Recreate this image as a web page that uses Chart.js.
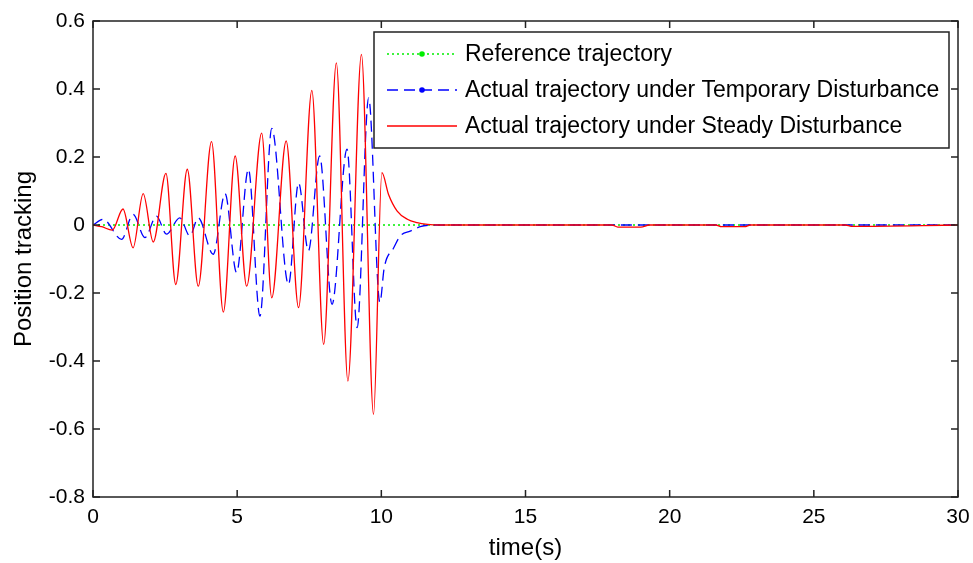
<!DOCTYPE html>
<html>
<head>
<meta charset="utf-8">
<title>Position tracking</title>
<script src="https://cdn.jsdelivr.net/npm/chart.js@4.4.0/dist/chart.umd.min.js"></script>
<style>
  html, body { margin: 0; padding: 0; background: #fff; }
  canvas { display: block; }
</style>
</head>
<body>
<canvas id="chart" width="973" height="563"></canvas>
<script>
// reference trajectory (flat zero)
const tRef = [0, 30];
const yRef = [0, 0];

// actual trajectory, temporary disturbance (blue dashed)
const tBlue = [0, 0.35, 0.99, 1.39, 1.8, 2.2, 2.55, 3.01, 3.36, 3.65, 4.17, 4.58, 4.98, 5.39, 5.79, 6.2,
    6.78, 7.13, 7.47, 7.86, 8.29, 8.81, 9.16, 9.56, 9.95, 10.1, 10.43, 10.66, 11.0, 11.35, 11.8, 30];
const yBlue = [0, 0.017, -0.042, 0.031, -0.037, 0.026, -0.027, 0.021, -0.032, 0.021, -0.086, 0.092, -0.14, 0.164, -0.268, 0.284,
    -0.175, 0.124, -0.076, 0.203, -0.233, 0.223, -0.302, 0.374, -0.228, -0.126, -0.067, -0.032, -0.018, -0.005, 0, 0];

// actual trajectory, steady disturbance (red solid)
const tRed = [0, 0.3, 0.67, 1.04, 1.39, 1.74, 2.09, 2.53, 2.87, 3.27, 3.65, 4.11, 4.52, 4.93, 5.33, 5.85, 6.2,
    6.7, 7.13, 7.59, 8.0, 8.44, 8.84, 9.31, 9.73, 10.02, 10.25, 10.55, 10.9, 11.24, 11.6, 12.0,
    18.0, 18.2, 18.5, 19.0, 19.3, 21.6, 21.8, 22.6, 22.8, 26.1, 26.3, 30];
const yRed = [0, -0.005, -0.015, 0.047, -0.067, 0.092, -0.05, 0.152, -0.175, 0.164, -0.18, 0.245, -0.256, 0.203, -0.18, 0.27, -0.214,
    0.247, -0.243, 0.396, -0.351, 0.477, -0.459, 0.502, -0.557, 0.154, 0.09, 0.041, 0.017, 0.007, 0.002, 0,
    0, -0.006, -0.006, -0.006, 0, 0, -0.005, -0.005, 0, 0, -0.004, 0];

const xTicks = [0, 5, 10, 15, 20, 25, 30];
const yTicks = [0.6, 0.4, 0.2, 0, -0.2, -0.4, -0.6, -0.8];

const FONT = "'Liberation Sans', Arial, sans-serif";

function toPoints(ts, ys) {
    return ts.map((t, i) => ({ x: t, y: ys[i] }));
}

// MATLAB style box with inward ticks on all four sides
const framePlugin = {
    id: 'frame',
    afterDatasetsDraw(chart) {
        const { ctx, chartArea: a, scales: { x, y } } = chart;
        ctx.save();
        ctx.strokeStyle = '#222';
        ctx.lineWidth = 1.5;
        ctx.strokeRect(a.left, a.top, a.right - a.left, a.bottom - a.top);
        ctx.beginPath();
        x.ticks.forEach(t => {
            const px = x.getPixelForValue(t.value);
            ctx.moveTo(px, a.bottom); ctx.lineTo(px, a.bottom - 7);
            ctx.moveTo(px, a.top); ctx.lineTo(px, a.top + 7);
        });
        y.ticks.forEach(t => {
            const py = y.getPixelForValue(t.value);
            ctx.moveTo(a.left, py); ctx.lineTo(a.left + 7, py);
            ctx.moveTo(a.right, py); ctx.lineTo(a.right - 7, py);
        });
        ctx.stroke();
        ctx.restore();
    }
};

// legend box in the upper right, line samples with markers
const legendPlugin = {
    id: 'boxLegend',
    afterDraw(chart) {
        const { ctx, chartArea: a } = chart;
        const w = 575, h = 116;
        const left = a.right - 9 - w, top = a.top + 11;
        ctx.save();
        ctx.fillStyle = '#fff';
        ctx.fillRect(left, top, w, h);
        ctx.strokeStyle = '#222';
        ctx.lineWidth = 1.5;
        ctx.strokeRect(left, top, w, h);
        ctx.font = '23px ' + FONT;
        ctx.textBaseline = 'middle';
        chart.data.datasets.forEach((ds, i) => {
            const cy = top + 22 + i * 36;
            ctx.strokeStyle = ds.borderColor;
            ctx.lineWidth = ds.borderWidth;
            ctx.setLineDash(ds.borderDash || []);
            ctx.beginPath();
            ctx.moveTo(left + 13, cy);
            ctx.lineTo(left + 83, cy);
            ctx.stroke();
            ctx.setLineDash([]);
            if (ds.legendDot) {
                ctx.fillStyle = ds.borderColor;
                ctx.beginPath();
                ctx.arc(left + 48, cy, 2.8, 0, Math.PI * 2);
                ctx.fill();
            }
            ctx.fillStyle = '#000';
            ctx.fillText(ds.label, left + 91, cy + 1);
        });
        ctx.restore();
    }
};

new Chart(document.getElementById('chart'), {
    type: 'line',
    data: {
        datasets: [{
            label: 'Reference trajectory',
            data: toPoints(tRef, yRef),
            borderColor: '#00ee00',
            borderWidth: 1.3,
            borderDash: [2, 3],
            pointRadius: 0,
            legendDot: true,
            order: 2
        }, {
            label: 'Actual trajectory under Temporary Disturbance',
            data: toPoints(tBlue, yBlue),
            borderColor: '#0000ff',
            borderWidth: 1.3,
            borderDash: [11, 6],
            pointRadius: 0,
            cubicInterpolationMode: 'monotone',
            legendDot: true,
            order: 1
        }, {
            label: 'Actual trajectory under Steady Disturbance',
            data: toPoints(tRed, yRed),
            borderColor: '#ff0000',
            borderWidth: 1.3,
            pointRadius: 0,
            cubicInterpolationMode: 'monotone',
            order: 0
        }]
    },
    options: {
        responsive: false,
        animation: false,
        devicePixelRatio: 1,
        layout: { padding: { top: 21, right: 15, left: 0, bottom: 0 } },
        plugins: {
            legend: { display: false },
            tooltip: { enabled: false }
        },
        scales: {
            x: {
                type: 'linear',
                min: 0,
                max: 30,
                afterBuildTicks: s => { s.ticks = xTicks.map(v => ({ value: v })); },
                afterFit: s => { s.height = 66; s.paddingLeft = 0; s.paddingRight = 0; },
                grid: { display: false, drawTicks: false },
                border: { display: false },
                ticks: { color: '#000', font: { family: FONT, size: 21 }, padding: 8, maxRotation: 0, autoSkip: false },
                title: { display: true, text: 'time(s)', color: '#000', font: { family: FONT, size: 24 }, padding: 0 }
            },
            y: {
                type: 'linear',
                min: -0.8,
                max: 0.6,
                afterBuildTicks: s => { s.ticks = yTicks.map(v => ({ value: v })); },
                afterFit: s => { s.width = 93; },
                grid: { display: false, drawTicks: false },
                border: { display: false },
                ticks: {
                    color: '#000',
                    font: { family: FONT, size: 21 },
                    padding: 8,
                    callback: v => Math.abs(v) < 1e-9 ? '0' : String(+v.toFixed(1))
                },
                title: { display: true, text: 'Position tracking', color: '#000', font: { family: FONT, size: 24 }, padding: { top: 10, bottom: 0 } }
            }
        }
    },
    plugins: [framePlugin, legendPlugin]
});
</script>
</body>
</html>
